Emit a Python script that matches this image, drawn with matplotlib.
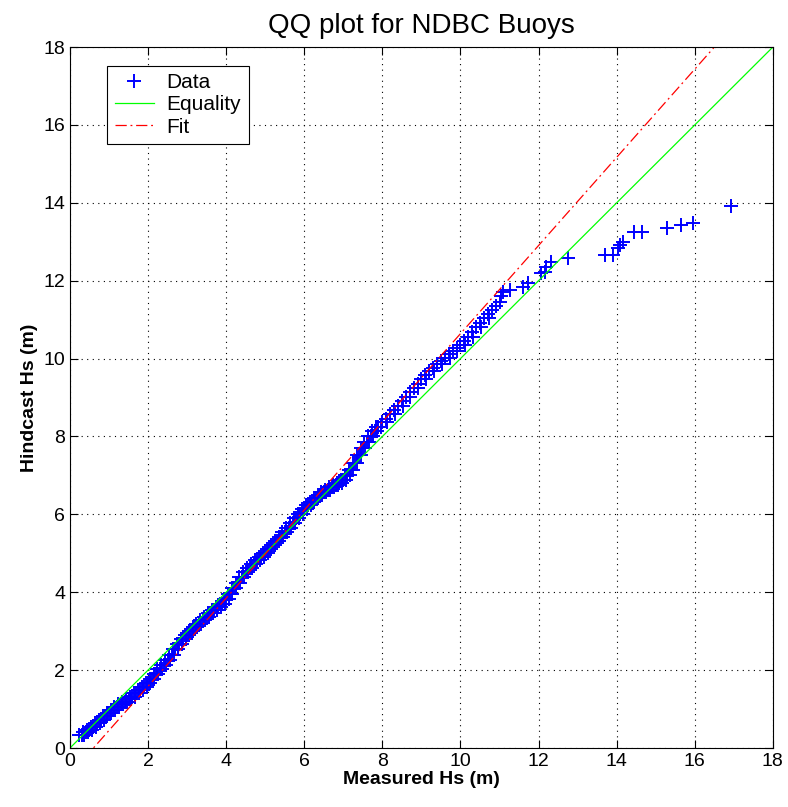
import numpy as np
import matplotlib
matplotlib.use("Agg")
import matplotlib.pyplot as plt

plt.rcParams['font.family'] = ['Liberation Sans', 'DejaVu Sans']

# quantile pairs (measured, hindcast)
# dense part: short horizontal runs of points at each hindcast level
meas_dense = [0.24, 0.36, 0.34, 0.46, 0.44, 0.56, 0.54, 0.66, 0.64, 0.76, 0.74, 0.86, 0.84, 0.96, 0.94, 1.06, 1.04, 1.16, 1.14, 1.26,
              1.24, 1.36, 1.34, 1.46, 1.44, 1.56, 1.54, 1.66, 1.64, 1.76, 1.74, 1.86, 1.84, 1.96, 1.94, 2.06, 2.04, 2.16, 2.14, 2.26,
              2.24, 2.36, 2.34, 2.46, 2.44, 2.56, 2.54, 2.66, 2.64, 2.76, 2.74, 2.86, 2.84, 2.96, 2.94, 3.06, 3.04, 3.16, 3.14, 3.26,
              3.24, 3.36, 3.34, 3.46, 3.44, 3.56, 3.54, 3.66, 3.64, 3.76, 3.74, 3.86, 3.84, 3.96, 3.94, 4.06, 4.04, 4.16, 4.14, 4.26,
              4.24, 4.36, 4.34, 4.46, 4.44, 4.56, 4.54, 4.66, 4.64, 4.76, 4.74, 4.86, 4.84, 4.96, 4.94, 5.06, 5.04, 5.16, 5.14, 5.26,
              5.24, 5.36, 5.34, 5.46, 5.44, 5.56, 5.54, 5.66, 5.64, 5.76, 5.74, 5.86, 5.84, 5.96, 5.94, 6.06, 6.04, 6.16, 6.14, 6.26,
              6.24, 6.36, 6.34, 6.46, 6.44, 6.56, 6.54, 6.66, 6.64, 6.76, 6.74, 6.86, 6.84, 6.96, 6.94, 7.06, 7.04, 7.16, 7.14, 7.26,
              7.24, 7.36, 7.34, 7.46, 7.44, 7.56, 7.54, 7.66, 7.64, 7.76, 7.74, 7.86, 7.84, 7.96]
hind_dense = [0.33, 0.33, 0.40, 0.40, 0.47, 0.47, 0.55, 0.55, 0.64, 0.64, 0.73, 0.73, 0.82, 0.82, 0.90, 0.90, 0.98, 0.98, 1.05, 1.05,
              1.12, 1.12, 1.18, 1.18, 1.25, 1.25, 1.32, 1.32, 1.40, 1.40, 1.48, 1.48, 1.57, 1.57, 1.67, 1.67, 1.78, 1.78, 1.90, 1.90,
              2.02, 2.02, 2.14, 2.14, 2.26, 2.26, 2.39, 2.39, 2.53, 2.53, 2.67, 2.67, 2.80, 2.80, 2.91, 2.91, 3.01, 3.01, 3.10, 3.10,
              3.19, 3.19, 3.28, 3.28, 3.37, 3.37, 3.46, 3.46, 3.54, 3.54, 3.62, 3.62, 3.70, 3.70, 3.82, 3.82, 3.96, 3.96, 4.10, 4.10,
              4.25, 4.25, 4.38, 4.38, 4.52, 4.52, 4.63, 4.63, 4.73, 4.73, 4.82, 4.82, 4.91, 4.91, 5.00, 5.00, 5.10, 5.10, 5.21, 5.21,
              5.32, 5.32, 5.43, 5.43, 5.54, 5.54, 5.66, 5.66, 5.78, 5.78, 5.90, 5.90, 6.02, 6.02, 6.13, 6.13, 6.23, 6.23, 6.33, 6.33,
              6.42, 6.42, 6.50, 6.50, 6.57, 6.57, 6.63, 6.63, 6.69, 6.69, 6.75, 6.75, 6.81, 6.81, 6.89, 6.89, 7.00, 7.00, 7.15, 7.15,
              7.33, 7.33, 7.52, 7.52, 7.70, 7.70, 7.86, 7.86, 8.00, 8.00, 8.13, 8.13, 8.25, 8.25]
# centre points of the dense runs
meas_mid = [0.3, 0.4, 0.5, 0.6, 0.7, 0.8, 0.9, 1.0, 1.1, 1.2, 1.3, 1.4, 1.5, 1.6, 1.7, 1.8, 1.9, 2.0, 2.1, 2.2,
            2.3, 2.4, 2.5, 2.6, 2.7, 2.8, 2.9, 3.0, 3.1, 3.2, 3.3, 3.4, 3.5, 3.6, 3.7, 3.8, 3.9, 4.0, 4.1, 4.2,
            4.3, 4.4, 4.5, 4.6, 4.7, 4.8, 4.9, 5.0, 5.1, 5.2, 5.3, 5.4, 5.5, 5.6, 5.7, 5.8, 5.9, 6.0, 6.1, 6.2,
            6.3, 6.4, 6.5, 6.6, 6.7, 6.8, 6.9, 7.0, 7.1, 7.2, 7.3, 7.4, 7.5, 7.6, 7.7, 7.8, 7.9]
hind_mid = [0.33, 0.40, 0.47, 0.55, 0.64, 0.73, 0.82, 0.90, 0.98, 1.05, 1.12, 1.18, 1.25, 1.32, 1.40, 1.48, 1.57, 1.67, 1.78, 1.90,
            2.02, 2.14, 2.26, 2.39, 2.53, 2.67, 2.80, 2.91, 3.01, 3.10, 3.19, 3.28, 3.37, 3.46, 3.54, 3.62, 3.70, 3.82, 3.96, 4.10,
            4.25, 4.38, 4.52, 4.63, 4.73, 4.82, 4.91, 5.00, 5.10, 5.21, 5.32, 5.43, 5.54, 5.66, 5.78, 5.90, 6.02, 6.13, 6.23, 6.33,
            6.42, 6.50, 6.57, 6.63, 6.69, 6.75, 6.81, 6.89, 7.00, 7.15, 7.33, 7.52, 7.70, 7.86, 8.00, 8.13, 8.25]
# upper part
meas_upper = [8.0, 8.1, 8.2, 8.3, 8.4, 8.5, 8.6, 8.7, 8.8, 8.9, 9.0, 9.1, 9.2, 9.3, 9.4,
              9.5, 9.6, 9.7, 9.8, 9.9, 10.0, 10.1, 10.2, 10.3, 10.4, 10.5, 10.6, 10.7, 10.8, 10.9,
              8.12, 8.32, 8.52, 8.72, 8.92, 9.12, 9.32, 9.52, 9.72, 9.92, 10.12, 10.32, 10.52, 10.72,
              11.0, 11.05, 11.09, 11.26, 11.61, 11.73, 12.07, 12.16, 12.2, 12.31, 12.76,
              13.70, 13.91, 14.04, 14.08, 14.17, 14.44, 14.64, 15.28, 15.66, 15.96, 16.94]
hind_upper = [8.36, 8.46, 8.57, 8.67, 8.78, 8.90, 9.02, 9.14, 9.25, 9.36, 9.47, 9.58, 9.68, 9.77, 9.85,
              9.93, 10.02, 10.11, 10.20, 10.28, 10.35, 10.45, 10.56, 10.68, 10.80, 10.92, 11.04, 11.15, 11.26, 11.35,
              8.36, 8.57, 8.78, 9.02, 9.25, 9.47, 9.68, 9.85, 10.02, 10.20, 10.35, 10.56, 10.80, 11.04,
              11.45, 11.60, 11.72, 11.76, 11.85, 11.93, 12.19, 12.22, 12.36, 12.49, 12.59,
              12.66, 12.66, 12.83, 12.92, 12.99, 13.24, 13.24, 13.35, 13.43, 13.47, 13.93]

# linear fit coefficients
fit_slope = 1.132
fit_icept = -0.68
ticks = [0, 2, 4, 6, 8, 10, 12, 14, 16, 18]

meas_hs = meas_dense + meas_mid + meas_upper
hind_hs = hind_dense + hind_mid + hind_upper

fig = plt.figure(figsize=(7.88, 8.07), dpi=100)
ax = fig.add_axes([0.0888, 0.0731, 0.892, 0.8686])

ax.plot(meas_hs, hind_hs, '+', color='blue', markersize=10, markeredgewidth=1.4,
        label='Data')
ax.plot([0, 18], [0, 18], '-', color='#00ff00', linewidth=0.9, label='Equality')
fx = np.array([0, 18])
ax.plot(fx, fit_slope * fx + fit_icept, color='red', linewidth=0.9,
        linestyle=(0, (9, 3, 1.5, 3)), label='Fit')

ax.set_xlim(0, 18)
ax.set_ylim(0, 18)
ax.set_xticks(ticks)
ax.set_yticks(ticks)
ax.grid(True, linestyle=(0, (1, 4)), color='black', linewidth=0.8)
ax.tick_params(direction='in', top=True, right=True, length=6, labelsize=14,
               width=0.8)
for s in ax.spines.values():
    s.set_linewidth(0.8)

ax.set_title('QQ plot for NDBC Buoys', fontsize=20, pad=10)
ax.set_xlabel('Measured Hs (m)', fontsize=14, fontweight='bold', labelpad=1)
ax.set_ylabel('Hindcast Hs (m)', fontsize=14, fontweight='bold', labelpad=4)

leg = ax.legend(loc='upper left', bbox_to_anchor=(0.053, 0.973), borderaxespad=0,
                fontsize=15, fancybox=False, framealpha=1, edgecolor='black',
                handlelength=1.9, handletextpad=0.6, borderpad=0.35,
                labelspacing=0.15)
leg.get_frame().set_linewidth(0.8)

fig.savefig('out.png', dpi=100)
